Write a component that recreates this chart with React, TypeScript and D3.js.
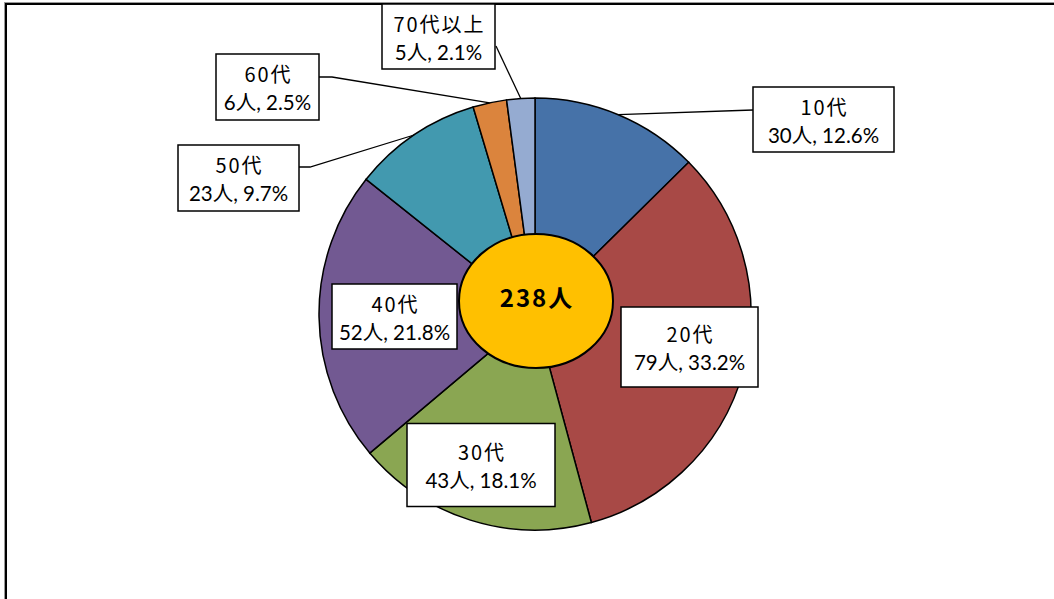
import React from "react";
import * as d3 from "d3";

const categories = ["10代", "20代", "30代", "40代", "50代", "60代", "70代以上"];
const counts = [30, 79, 43, 52, 23, 6, 5];
const percents = ["12.6%", "33.2%", "18.1%", "21.8%", "9.7%", "2.5%", "2.1%"];
const colors = ["#4672A8", "#A84946", "#8AA652", "#725992", "#4299AF", "#DB843D", "#95ABD1"];
const totalLabel = "238人";

// layout (annotation boxes), not data
const labelLayout = [
  { cx: 823.5, cy: 119.5, w: 141, h: 65, leader: [[753, 110]] },
  { cx: 689.5, cy: 347, w: 137, h: 80, leader: null },
  { cx: 481, cy: 465, w: 148, h: 83, leader: null },
  { cx: 394.5, cy: 316.5, w: 125, h: 65, leader: null },
  { cx: 238.5, cy: 178, w: 121, h: 66, leader: [[310, 167], [299, 167]] },
  { cx: 267.5, cy: 87, w: 103, h: 66, leader: [[332, 77], [319, 77]] },
  { cx: 438.5, cy: 36.5, w: 113, h: 65, leader: [[496, 46]] },
];

const W = 1054;
const H = 599;
const CX = 535;
const CY = 314;
const R = 216;

export default function App() {
  const pie = d3.pie<number>().sort(null).value((d) => d)(counts);
  const arc = d3.arc<d3.PieArcDatum<number>>().innerRadius(0).outerRadius(R);

  return (
    <svg
      width={W}
      height={H}
      style={{ position: "absolute", left: 0, top: 0, display: "block", background: "#fff" }}
    >
      <rect x={4.5} y={2.5} width={1200} height={800} fill="none" stroke="#999" strokeWidth={1} />
      <rect x={6} y={4} width={1200} height={800} fill="none" stroke="#000" strokeWidth={2} />
      <g transform={`translate(${CX},${CY})`}>
        {pie.map((p, i) => (
          <path key={i} d={arc(p) || ""} fill={colors[i]} stroke="#000" strokeWidth={1.5} />
        ))}
      </g>
      {pie.map((p, i) => {
        const L = labelLayout[i];
        if (!L.leader) return null;
        const a = (p.startAngle + p.endAngle) / 2;
        const sx = CX + R * Math.sin(a);
        const sy = CY - R * Math.cos(a);
        const pts = [[sx, sy], ...L.leader];
        return (
          <polyline
            key={"l" + i}
            points={pts.map((q) => q.join(",")).join(" ")}
            fill="none"
            stroke="#000"
            strokeWidth={1.3}
          />
        );
      })}
      <ellipse cx={536} cy={301} rx={77} ry={67} fill="#FFC000" stroke="#000" strokeWidth={2} />
      <text
        x={537}
        y={307}
        textAnchor="middle"
        fontFamily="'Noto Sans CJK JP'"
        fontWeight="bold"
        fontSize={24}
        letterSpacing={2}
        fill="#000"
      >
        {totalLabel}
      </text>
      {categories.map((c, i) => {
        const L = labelLayout[i];
        return (
          <g key={"b" + i}>
            <rect
              x={L.cx - L.w / 2}
              y={L.cy - L.h / 2}
              width={L.w}
              height={L.h}
              fill="#fff"
              stroke="#000"
              strokeWidth={1.5}
            />
            <text
              x={L.cx + 1}
              y={L.cy - 5}
              textAnchor="middle"
              fontFamily="'Noto Sans CJK JP'"
              fontSize={20}
              letterSpacing={2}
              fill="#000"
            >
              {c}
            </text>
            <text
              x={L.cx}
              y={L.cy + 23}
              textAnchor="middle"
              fontFamily="Lato, 'Noto Sans CJK JP'"
              fontSize={20.5}
              fill="#000"
            >
              {`${counts[i]}人, ${percents[i]}`}
            </text>
          </g>
        );
      })}
    </svg>
  );
}
